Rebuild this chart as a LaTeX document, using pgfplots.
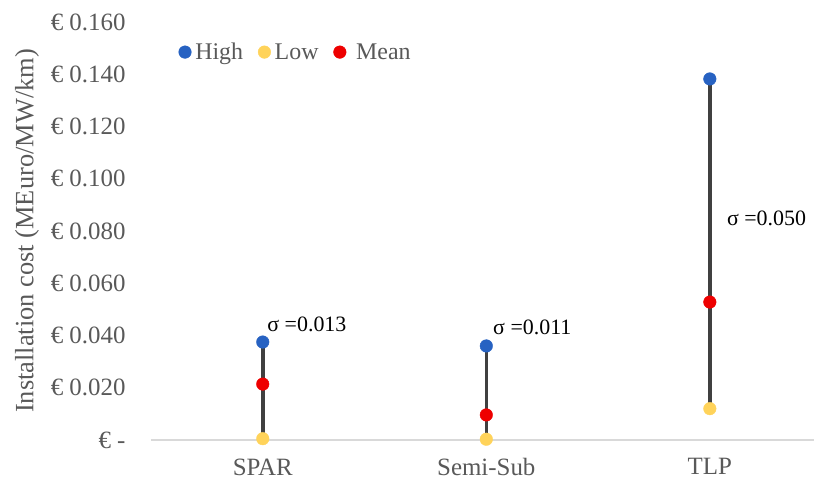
\documentclass[border=0pt]{standalone}
\usepackage{pgfplots}
\pgfplotsset{compat=1.18}
\usepackage{fontspec}
\setmainfont{Liberation Serif}
\definecolor{txtgray}{HTML}{595959}
\definecolor{hiblue}{HTML}{2762C2}
\definecolor{loyellow}{HTML}{FFD35A}
\definecolor{mnred}{HTML}{EE0000}
\definecolor{stemgray}{HTML}{404040}
\definecolor{basegray}{HTML}{D9D9D9}
\begin{document}
\begin{tikzpicture}[x=1bp,y=1bp]
\begin{axis}[
  name=ax,
  at={(0,0)}, anchor=south west,
  scale only axis,
  width=663bp, height=418bp,
  xmin=-0.5, xmax=2.466,
  ymin=0, ymax=0.160,
  clip=false,
  axis x line*=bottom,
  axis y line*=left,
  y axis line style={draw=none},
  x axis line style={basegray, line width=1.2bp, -},
  xtick={0,1,2},
  xticklabels={SPAR, Semi-Sub, TLP},
  major tick length=0pt,
  xticklabel style={font=\fontsize{25}{29}\selectfont, text=txtgray, yshift=-15bp},
  ytick={0,0.02,0.04,0.06,0.08,0.10,0.12,0.14,0.16},
  yticklabels={{€ -},{€ 0.020},{€ 0.040},{€ 0.060},{€ 0.080},{€ 0.100},{€ 0.120},{€ 0.140},{€ 0.160}},
  yticklabel style={font=\fontsize{25}{29}\selectfont, text=txtgray, anchor=east, xshift=-22bp},
  ylabel={Installation cost (MEuro/MW/km)},
  ylabel style={font=\fontsize{26.5}{30}\selectfont, text=txtgray},
  ylabel shift=5bp,
  legend style={at={(0.037,0.928)}, anchor=west, draw=none, fill=none,
    font=\fontsize{24}{28}\selectfont, text=txtgray, column sep=2bp,
    /tikz/every even column/.append style={column sep=13bp}},
  legend columns=3,
  legend cell align=left,
]
% stems (Low to High)
\addplot[stemgray, line width=3.5bp, forget plot] coordinates {(0,0.0005) (0,0.0375)};
\addplot[stemgray, line width=3.5bp, forget plot] coordinates {(1,0.0003) (1,0.0360)};
\addplot[stemgray, line width=3.5bp, forget plot] coordinates {(2,0.0120) (2,0.1382)};
% markers
\addplot[only marks, mark=*, mark size=6.3bp, hiblue, mark options={draw=hiblue, fill=hiblue}]
  coordinates {(0,0.0375) (1,0.0360) (2,0.1382)};
\addlegendentry{High}
\addplot[only marks, mark=*, mark size=6.3bp, loyellow, mark options={draw=loyellow, fill=loyellow}]
  coordinates {(0,0.0005) (1,0.0003) (2,0.0120)};
\addlegendentry{Low}
\addplot[only marks, mark=*, mark size=6.3bp, mnred, mark options={draw=mnred, fill=mnred}]
  coordinates {(0,0.0214) (1,0.0096) (2,0.0528)};
\addlegendentry{\hspace{6bp}Mean}
% annotations
\node[anchor=west, font=\fontsize{22}{26}\selectfont, inner sep=0pt] at (axis cs:0.02,0.0442) {σ =0.013};
\node[anchor=west, font=\fontsize{22}{26}\selectfont, inner sep=0pt] at (axis cs:1.03,0.0433) {σ =0.011};
\node[anchor=west, font=\fontsize{22}{26}\selectfont, inner sep=0pt] at (axis cs:2.076,0.085) {σ =0.050};
\end{axis}
\pgfresetboundingbox
\path ([shift={(-151bp,-42bp)}]ax.south west) rectangle ([shift={(0bp,22bp)}]ax.north east);
\end{tikzpicture}
\end{document}
